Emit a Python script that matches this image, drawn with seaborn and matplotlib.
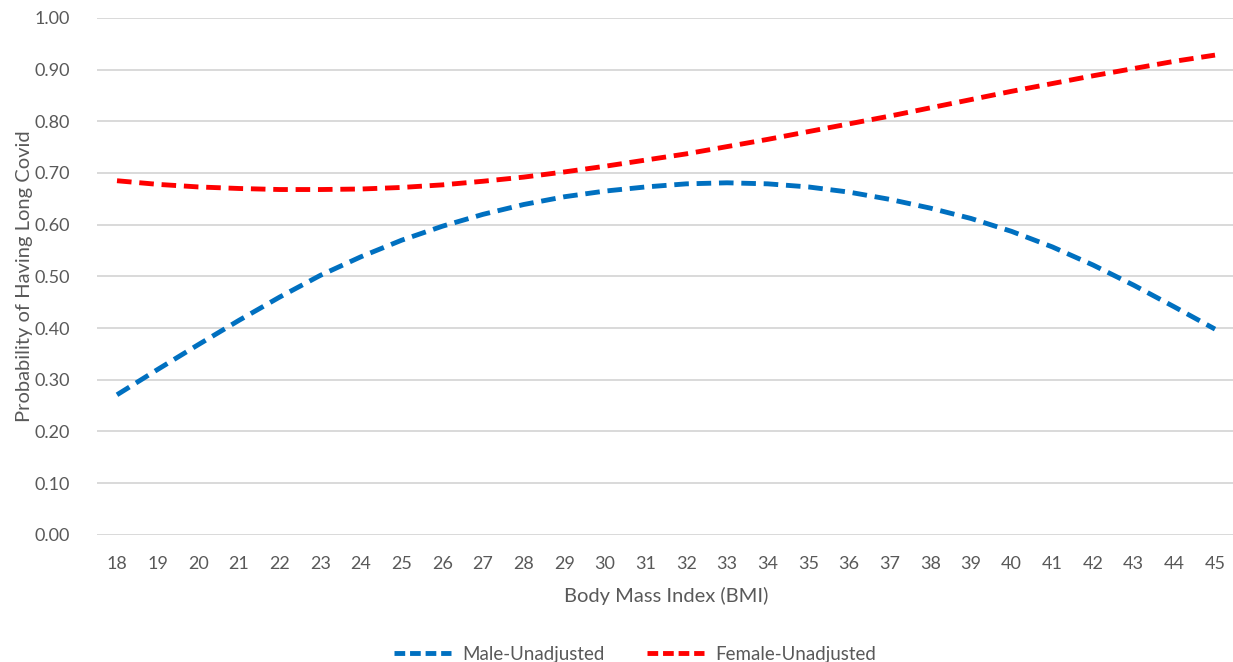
import pandas as pd
import matplotlib.pyplot as plt
import seaborn as sns

# BMI values on the x axis
bmi = list(range(18, 46))

# Predicted probability of long covid
male_unadjusted = [0.271, 0.320, 0.368, 0.415, 0.460, 0.502, 0.538, 0.570, 0.597, 0.620,
                   0.639, 0.654, 0.665, 0.673, 0.679, 0.681, 0.679, 0.673, 0.663, 0.649,
                   0.632, 0.612, 0.587, 0.557, 0.522, 0.483, 0.441, 0.398]
female_unadjusted = [0.685, 0.678, 0.673, 0.670, 0.668, 0.668, 0.669, 0.672, 0.677, 0.684,
                     0.692, 0.702, 0.713, 0.725, 0.737, 0.751, 0.765, 0.780, 0.795, 0.810,
                     0.826, 0.842, 0.858, 0.873, 0.888, 0.902, 0.916, 0.928]

series_names = ["Male-Unadjusted", "Female-Unadjusted"]
y_ticks = [0.0, 0.1, 0.2, 0.3, 0.4, 0.5, 0.6, 0.7, 0.8, 0.9, 1.0]

df = pd.concat([
    pd.DataFrame({"bmi": bmi, "prob": male_unadjusted, "group": series_names[0]}),
    pd.DataFrame({"bmi": bmi, "prob": female_unadjusted, "group": series_names[1]}),
])

sns.set_theme(style="white")
plt.rcParams["font.family"] = ["Lato", "DejaVu Sans"]
text_color = "#595959"

fig = plt.figure(figsize=(12.33, 6.62), dpi=100)
ax = fig.add_axes([0.0784, 0.192, 0.9235, 0.781])

sns.lineplot(data=df, x="bmi", y="prob", hue="group", style="group",
             palette={series_names[0]: "#0070C0", series_names[1]: "#FF0000"},
             dashes={series_names[0]: (3.0, 1.6), series_names[1]: (3.0, 1.6)},
             linewidth=3.5, legend=False, ax=ax)

ax.set_xlim(17.5, 45.5)
ax.set_ylim(0, 1.0)
ax.set_xticks(bmi)
ax.set_xticklabels([str(b) for b in bmi])
ax.set_yticks(y_ticks)
ax.set_yticklabels([f"{v:.2f}" for v in y_ticks])
ax.yaxis.grid(True, color="#D9D9D9", linewidth=1.4)
ax.set_axisbelow(True)
for s in ax.spines.values():
    s.set_visible(False)
ax.tick_params(axis="both", length=0, labelsize=13, colors=text_color)
ax.tick_params(axis="y", pad=19)
ax.tick_params(axis="x", pad=15)

ax.set_xlabel("Body Mass Index (BMI)", fontsize=14.5, color=text_color, labelpad=11)
ax.set_ylabel("Probability of Having Long Covid", fontsize=14.5, color=text_color, labelpad=1)

handles = [plt.Line2D([], [], color=c, linewidth=3.5, dashes=(2.2, 1.0))
           for c in ["#0070C0", "#FF0000"]]
fig.legend(handles, series_names, loc="center", bbox_to_anchor=(0.515, 0.012), ncol=2,
           frameon=False, fontsize=13.5, handlelength=3.0, handletextpad=0.6,
           columnspacing=2.3, labelcolor=text_color)

fig.savefig("out.png", dpi=100)
